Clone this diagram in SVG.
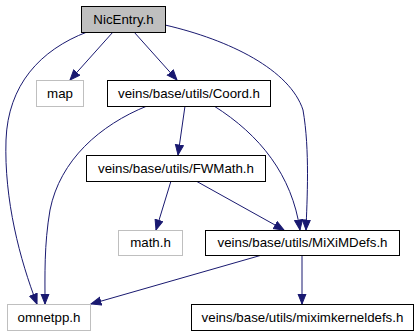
<svg xmlns="http://www.w3.org/2000/svg" width="418" height="336" viewBox="0 0 418 336">
  <style>
    .box { fill: #ffffff; stroke: #000000; stroke-width: 1; }
    .ext { fill: #ffffff; stroke: #bfbfbf; stroke-width: 1; }
    .cur { fill: #bfbfbf; stroke: #000000; stroke-width: 1; }
    text { font-family: "Liberation Sans", Arial, sans-serif; font-size: 13.3px; fill: #000000; text-anchor: middle; }
    .edge { fill: none; stroke: #191970; stroke-width: 1; marker-end: url(#arrow); }
  </style>
  <defs>
    <marker id="arrow" markerUnits="userSpaceOnUse" markerWidth="12" markerHeight="10" refX="10.5" refY="4.5" orient="auto">
      <path d="M0.5,0.5 L10.5,4.5 L0.5,8.5 z" fill="#191970" stroke="#191970" stroke-width="1"/>
    </marker>
  </defs>
  <rect width="418" height="336" fill="#ffffff"/>

  <g id="connectors">
    <path class="edge" d="M113,32 L70,80"/>
    <path class="edge" d="M134,32 L177,80"/>
    <path class="edge" d="M87,32 C40,50 8,85 6,140 C4,200 20,260 37,304"/>
    <path class="edge" d="M165,25 C230,40 290,70 303,110 C310,150 307,200 306,230"/>
    <path class="edge" d="M147,106 C100,125 60,160 50,210 C44,245 45,275 45,304"/>
    <path class="edge" d="M185,106 L178,155"/>
    <path class="edge" d="M214,106 C260,135 292,175 300,230"/>
    <path class="edge" d="M171,181 L156,230"/>
    <path class="edge" d="M196,181 L284,230"/>
    <path class="edge" d="M262,255 L91,304"/>
    <path class="edge" d="M302,255 L302,304"/>
  </g>

  <g id="node-nicentry">
    <rect class="cur" x="81.5" y="6.5" width="84" height="26"/>
    <text x="123.5" y="23.5">NicEntry.h</text>
  </g>
  <g id="node-map">
    <rect class="ext" x="36.5" y="80.5" width="47" height="26"/>
    <text x="60" y="97.5">map</text>
  </g>
  <g id="node-coord">
    <rect class="box" x="107.5" y="80.5" width="163" height="26"/>
    <text x="189" y="97.5">veins/base/utils/Coord.h</text>
  </g>
  <g id="node-fwmath">
    <rect class="box" x="86.5" y="155.5" width="179" height="26"/>
    <text x="176" y="172.5">veins/base/utils/FWMath.h</text>
  </g>
  <g id="node-math">
    <rect class="ext" x="118.5" y="230.5" width="64" height="25"/>
    <text x="150.5" y="247">math.h</text>
  </g>
  <g id="node-miximdefs">
    <rect class="box" x="205.5" y="230.5" width="194" height="25"/>
    <text x="302.5" y="247">veins/base/utils/MiXiMDefs.h</text>
  </g>
  <g id="node-omnetpp">
    <rect class="ext" x="7.5" y="304.5" width="83" height="26"/>
    <text x="49" y="321.5">omnetpp.h</text>
  </g>
  <g id="node-miximkerneldefs">
    <rect class="box" x="191.5" y="304.5" width="222" height="26"/>
    <text x="302.5" y="321.5">veins/base/utils/miximkerneldefs.h</text>
  </g>
</svg>
